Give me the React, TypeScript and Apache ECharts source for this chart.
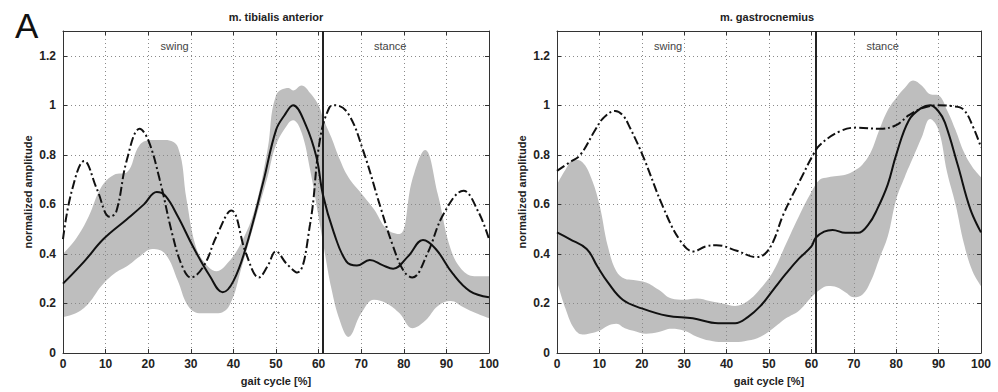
import React, { useEffect, useRef } from "react";
import * as echarts from "echarts";

// ---------- data: m. tibialis anterior ----------
const TA_BAND_X = [0, 3, 6, 9, 12, 15, 18, 21, 24, 27, 29, 31, 33, 36, 39, 42, 45, 48, 50, 53, 54, 56, 58, 60, 61, 63, 65, 67, 70, 73, 76, 79, 82, 85, 88, 91, 94, 97, 100];
const TA_UPPER = [0.40, 0.46, 0.55, 0.67, 0.72, 0.73, 0.84, 0.86, 0.86, 0.83, 0.62, 0.44, 0.37, 0.33, 0.37, 0.45, 0.58, 0.82, 1.04, 1.07, 1.06, 1.08, 1.05, 1.0, 0.95, 0.87, 0.78, 0.71, 0.645, 0.58, 0.50, 0.48, 0.70, 0.82, 0.64, 0.42, 0.33, 0.31, 0.31];
const TA_LOWER = [0.145, 0.16, 0.2, 0.27, 0.32, 0.35, 0.39, 0.42, 0.40, 0.29, 0.20, 0.165, 0.16, 0.16, 0.19, 0.35, 0.53, 0.71, 0.84, 0.93, 0.94, 0.89, 0.74, 0.55, 0.45, 0.26, 0.13, 0.065, 0.16, 0.215, 0.20, 0.16, 0.10, 0.13, 0.19, 0.21, 0.185, 0.16, 0.14];
const TA_MEAN: [number, number][] = [[0, 0.28], [5, 0.37], [9.5, 0.46], [15, 0.54], [19, 0.6], [22, 0.65], [24, 0.635], [27, 0.55], [30.5, 0.43], [34.5, 0.31], [37.5, 0.245], [40, 0.29], [43, 0.43], [47, 0.69], [50, 0.9], [52, 0.96], [54, 1.0], [57, 0.92], [59.5, 0.79], [61, 0.64], [63.5, 0.49], [66.5, 0.37], [69, 0.353], [72, 0.375], [75, 0.355], [77.5, 0.34], [81, 0.39], [84.5, 0.456], [87.5, 0.42], [91.5, 0.32], [95.5, 0.25], [100, 0.225]];
const TA_REF: [number, number][] = [[0, 0.46], [2, 0.65], [5, 0.775], [8, 0.66], [11, 0.55], [12.5, 0.57], [15, 0.78], [18, 0.905], [20, 0.86], [22.7, 0.7], [25.8, 0.47], [28, 0.35], [30, 0.305], [33, 0.35], [36, 0.47], [39.5, 0.575], [43, 0.4], [46, 0.305], [48, 0.35], [50, 0.41], [52.5, 0.36], [55, 0.325], [58, 0.52], [60.3, 0.86], [62.5, 0.99], [64, 1.0], [67, 0.965], [70.5, 0.815], [74.5, 0.59], [77.5, 0.43], [80, 0.33], [82, 0.305], [85.5, 0.4], [89.3, 0.56], [94, 0.655], [97.5, 0.57], [100, 0.46]];

// ---------- data: m. gastrocnemius ----------
const GA_BAND_X = [0, 2, 4, 6, 8, 10, 12, 14, 16, 18, 21, 24, 27, 30, 33, 36, 39, 42, 45, 48, 51, 54, 57, 60, 62, 64, 66, 68, 70, 72, 74, 76, 78, 80, 82, 84, 86, 88, 90, 92, 94, 96, 98, 100];
const GA_UPPER = [0.68, 0.74, 0.78, 0.77, 0.71, 0.6, 0.43, 0.33, 0.3, 0.295, 0.285, 0.255, 0.22, 0.215, 0.22, 0.21, 0.2, 0.19, 0.21, 0.26, 0.33, 0.44, 0.55, 0.65, 0.7, 0.71, 0.715, 0.72, 0.735, 0.76, 0.81, 0.9, 0.98, 1.03, 1.07, 1.1, 1.08, 1.045, 1.04, 0.98, 0.9, 0.81, 0.75, 0.71];
const GA_LOWER = [0.29, 0.18, 0.1, 0.075, 0.08, 0.09, 0.11, 0.118, 0.1, 0.09, 0.078, 0.085, 0.098, 0.09, 0.066, 0.05, 0.044, 0.044, 0.05, 0.066, 0.1, 0.14, 0.17, 0.225, 0.255, 0.27, 0.265, 0.245, 0.225, 0.235, 0.29, 0.38, 0.47, 0.62, 0.71, 0.79, 0.87, 0.945, 0.9, 0.73, 0.6, 0.44, 0.33, 0.27];
const GA_MEAN: [number, number][] = [[0, 0.487], [3, 0.46], [7, 0.42], [9.5, 0.35], [12, 0.285], [15.5, 0.215], [20, 0.18], [26, 0.15], [32, 0.14], [38, 0.12], [42, 0.12], [45, 0.145], [48, 0.19], [51, 0.255], [54, 0.32], [57, 0.38], [60, 0.43], [61, 0.465], [63, 0.49], [65, 0.497], [68, 0.485], [71, 0.485], [73.5, 0.52], [75.5, 0.58], [78, 0.68], [80, 0.8], [83, 0.94], [86, 0.99], [88, 1.0], [90, 0.975], [91.5, 0.93], [94.5, 0.76], [97.5, 0.58], [100, 0.487]];
const GA_REF: [number, number][] = [[0, 0.735], [3, 0.77], [5.5, 0.8], [9, 0.9], [11, 0.95], [13.7, 0.977], [15.5, 0.96], [17.2, 0.91], [20.4, 0.79], [25, 0.59], [29, 0.455], [32.2, 0.41], [35, 0.43], [37.6, 0.435], [42.4, 0.413], [47, 0.387], [49, 0.4], [51, 0.45], [53.4, 0.56], [58, 0.72], [60.4, 0.8], [62, 0.84], [66.7, 0.895], [70.7, 0.91], [76.2, 0.905], [80, 0.92], [83, 0.96], [86.4, 0.99], [90, 1.0], [93, 0.997], [95.8, 0.984], [98.2, 0.91], [100, 0.83]];

const TITLES = ["m. tibialis anterior", "m. gastrocnemius"];
const PHASES = ["swing", "stance"];
const PHASE_X = [26.2, 76.8];
const PHASE_Y = 1.24;
const TOE_OFF = 61;
const X_NAME = "gait cycle [%]";
const Y_NAME = "normalized amplitude";

const FONT = "Liberation Sans, Arial, sans-serif";
const BAND_COLOR = "#bebebe";

export default function App() {
  const ref = useRef<HTMLDivElement>(null);
  useEffect(() => {
    if (!ref.current) return;
    const chart = echarts.init(ref.current, null, { renderer: "svg" });

    const grids = [
      { left: 63, top: 31, width: 426, height: 322 },
      { left: 557, top: 31, width: 424, height: 322 },
    ];

    const xAxes: any[] = [];
    const yAxes: any[] = [];
    grids.forEach((_, gi) => {
      xAxes.push({
        type: "value", gridIndex: gi, min: 0, max: 100, interval: 10, position: "bottom", z: 3,
        name: X_NAME, nameLocation: "middle", nameGap: 22,
        nameTextStyle: { fontFamily: FONT, fontSize: 11, fontWeight: "bold", color: "#222" },
        axisLine: { show: true, onZero: false, lineStyle: { color: "#333", width: 1 } },
        axisTick: { show: true, inside: true, length: 4, lineStyle: { color: "#333" } },
        axisLabel: { fontFamily: FONT, fontSize: 12, fontWeight: "bold", color: "#222", margin: 5 },
        splitLine: { show: true, lineStyle: { color: "#8a8a8a", type: [1, 3], width: 1 } },
      });
      xAxes.push({
        type: "value", gridIndex: gi, min: 0, max: 100, interval: 10, position: "top", z: 3,
        axisLine: { show: true, onZero: false, lineStyle: { color: "#333", width: 1 } },
        axisTick: { show: true, inside: true, length: 4, lineStyle: { color: "#333" } },
        axisLabel: { show: false }, splitLine: { show: false },
      });
      yAxes.push({
        type: "value", gridIndex: gi, min: 0, max: 1.3, interval: 0.2, position: "left", z: 3,
        name: Y_NAME, nameLocation: "middle", nameGap: 30,
        nameTextStyle: { fontFamily: FONT, fontSize: 11, fontWeight: "bold", color: "#222" },
        axisLine: { show: true, onZero: false, lineStyle: { color: "#333", width: 1 } },
        axisTick: { show: true, inside: true, length: 4, lineStyle: { color: "#333" } },
        axisLabel: {
          fontFamily: FONT, fontSize: 12, fontWeight: "bold", color: "#222", margin: 7,
          formatter: (v: number) => (Math.abs(v * 5 - Math.round(v * 5)) < 1e-6 ? String(Math.round(v * 10) / 10) : ""),
        },
        splitLine: { show: true, lineStyle: { color: "#8a8a8a", type: [1, 3], width: 1 } },
      });
      yAxes.push({
        type: "value", gridIndex: gi, min: 0, max: 1.3, interval: 0.2, position: "right", z: 3,
        axisLine: { show: true, onZero: false, lineStyle: { color: "#333", width: 1 } },
        axisTick: { show: true, inside: true, length: 4, lineStyle: { color: "#333" } },
        axisLabel: { show: false }, splitLine: { show: false },
      });
    });

    const panels = [
      { bx: TA_BAND_X, up: TA_UPPER, lo: TA_LOWER, mean: TA_MEAN, refl: TA_REF },
      { bx: GA_BAND_X, up: GA_UPPER, lo: GA_LOWER, mean: GA_MEAN, refl: GA_REF },
    ];

    const series: any[] = [];
    panels.forEach((p, gi) => {
      const xi = gi * 2;
      const yi = gi * 2;
      // upper edge of the band, filled down to zero in grey
      series.push({
        type: "line", xAxisIndex: xi, yAxisIndex: yi, z: 1,
        data: p.bx.map((x, i) => [x, p.up[i]]),
        symbol: "none", smooth: 0.4, lineStyle: { width: 0, opacity: 0 },
        areaStyle: { color: BAND_COLOR, opacity: 1, origin: "start" }, silent: true,
      });
      // lower edge of the band, filled down to zero in white (grid lines are drawn on top)
      series.push({
        type: "line", xAxisIndex: xi, yAxisIndex: yi, z: 2,
        data: p.bx.map((x, i) => [x, p.lo[i]]),
        symbol: "none", smooth: 0.4, lineStyle: { width: 0, opacity: 0 },
        areaStyle: { color: "#ffffff", opacity: 1, origin: "start" }, silent: true,
      });
      series.push({
        type: "line", xAxisIndex: xi, yAxisIndex: yi, z: 5,
        data: p.refl, symbol: "none", smooth: 0.4,
        lineStyle: { color: "#111", width: 2, type: [9, 3, 2, 3] },
      });
      series.push({
        type: "line", xAxisIndex: xi, yAxisIndex: yi, z: 6,
        data: p.mean, symbol: "none", smooth: 0.4,
        lineStyle: { color: "#111", width: 2 },
        markLine: {
          silent: true, symbol: "none", label: { show: false },
          lineStyle: { color: "#222", width: 2, type: "solid" },
          data: [{ xAxis: TOE_OFF }],
        },
        markPoint: {
          silent: true, symbol: "circle", symbolSize: 0,
          label: { show: true, position: "inside", fontFamily: FONT, fontSize: 11, color: "#444", formatter: (d: any) => d.name },
          data: PHASES.map((ph, k) => ({ name: ph, coord: [PHASE_X[k], PHASE_Y] })),
        },
      });
    });

    chart.setOption({
      animation: false,
      backgroundColor: "#ffffff",
      grid: grids,
      xAxis: xAxes,
      yAxis: yAxes,
      series,
      graphic: [
        { type: "text", left: 15, top: 8, style: { text: "A", fontFamily: FONT, fontSize: 35, fill: "#111" } },
        { type: "text", x: 276, y: 11, style: { text: TITLES[0], fontFamily: FONT, fontSize: 11, fontWeight: "bold", fill: "#222", textAlign: "center" } },
        { type: "text", x: 767, y: 11, style: { text: TITLES[1], fontFamily: FONT, fontSize: 11, fontWeight: "bold", fill: "#222", textAlign: "center" } },
      ],
    });
    return () => chart.dispose();
  }, []);
  return <div ref={ref} style={{ position: "fixed", left: 0, top: 0, width: 998, height: 392, background: "#fff" }} />;
}
